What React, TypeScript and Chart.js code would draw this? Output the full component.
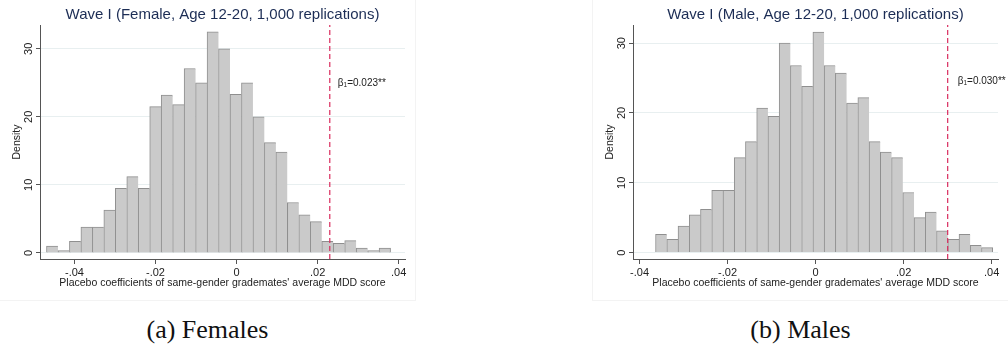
import React, { useEffect, useRef } from "react";
import { Chart, registerables } from "chart.js";

Chart.register(...registerables);

// Histogram densities (30 bins each) of placebo coefficients
const femaleDensity = [
  1.0, 0.34, 1.7, 3.8, 3.8, 6.3, 9.5, 11.2, 9.5, 21.5, 23.2, 21.8, 27.1, 25.0, 32.5,
  30.0, 23.3, 25.0, 20.0, 16.2, 14.8, 7.4, 5.6, 4.6, 1.7, 1.4, 1.8, 0.7, 0.34, 0.7,
];
const maleDensity = [
  2.6, 1.9, 3.8, 5.4, 6.2, 8.9, 8.9, 13.6, 15.9, 20.7, 19.5, 30.0, 26.8, 23.8, 31.6,
  26.8, 25.7, 21.4, 22.2, 15.9, 14.4, 13.6, 8.6, 5.0, 5.8, 3.1, 1.9, 2.6, 1.05, 0.7,
];

// Bin definitions (lower edge of first bin, bin width)
const femaleBinStart = -0.0469;
const femaleBinWidth = 0.00283;
const maleBinStart = -0.03636;
const maleBinWidth = 0.002553;

// Actual estimates marked by the dashed line
const femaleBeta = 0.023;
const maleBeta = 0.03;

// Axis ticks
const xTickValues = [-0.04, -0.02, 0, 0.02, 0.04];
const xTickLabels = ["-.04", "-.02", "0", ".02", ".04"];
const yTickValues = [0, 10, 20, 30];
const yTickLabels = ["0", "10", "20", "30"];

const FONT = "'Liberation Sans', Arial, Helvetica, sans-serif";

const betaLabelPlugin = {
  id: "betaLabel",
  afterDatasetsDraw(chart: any, _args: any, opts: any) {
    const { ctx, scales } = chart;
    const x0 = scales.x.getPixelForValue(opts.beta) + opts.dx;
    const y = scales.y.getPixelForValue(opts.y);
    ctx.save();
    ctx.fillStyle = "#222222";
    ctx.textAlign = "left";
    ctx.textBaseline = "middle";
    let x = x0;
    ctx.font = `10px ${FONT}`;
    ctx.fillText("β", x, y);
    x += ctx.measureText("β").width;
    ctx.font = `6.5px ${FONT}`;
    ctx.fillText("1", x, y + 2.5);
    x += ctx.measureText("1").width;
    ctx.font = `10px ${FONT}`;
    const eq = "=" + opts.beta.toFixed(3);
    ctx.fillText(eq, x, y);
    x += ctx.measureText(eq).width;
    ctx.fillText("**", x, y);
    ctx.restore();
  },
};

type PanelProps = {
  title: string;
  density: number[];
  binStart: number;
  binWidth: number;
  beta: number;
  xMin: number;
  xMax: number;
  yMin: number;
  yMax: number;
  labelY: number;
  labelDx: number;
};

function HistogramPanel(p: PanelProps) {
  const ref = useRef<HTMLCanvasElement | null>(null);

  useEffect(() => {
    if (!ref.current) return;
    const bars = p.density.map((d, i) => ({
      x: p.binStart + (i + 0.5) * p.binWidth,
      y: d,
    }));
    const last = p.density.length - 1;
    const chart = new Chart(ref.current, {
      type: "bar",
      data: {
        datasets: [
          {
            type: "line",
            data: [
              { x: p.beta, y: p.yMin },
              { x: p.beta, y: p.yMax },
            ],
            borderColor: "#d92c5e",
            borderWidth: 1.2,
            borderDash: [5, 3],
            pointRadius: 0,
            order: 0,
          } as any,
          {
            type: "bar",
            data: bars,
            backgroundColor: "#cacaca",
            borderColor: "#8f8f8f",
            borderWidth: (c: any) =>
              c.dataIndex === last
                ? { top: 1, left: 1, right: 1, bottom: 0 }
                : { top: 1, left: 1, right: 0, bottom: 0 },
            barPercentage: 1,
            categoryPercentage: 1,
            order: 1,
          } as any,
        ],
      },
      options: {
        animation: false,
        responsive: false,
        maintainAspectRatio: false,
        devicePixelRatio: 1,
        events: [],
        layout: { padding: { left: 0, right: 10, top: 0, bottom: 0 } },
        plugins: {
          legend: { display: false },
          tooltip: { enabled: false },
          title: {
            display: true,
            text: p.title,
            fullSize: false,
            color: "#1c2d55",
            font: { family: FONT, size: 15, weight: "normal", lineHeight: 1.2 },
            padding: { top: 6, bottom: 1 },
          },
          betaLabel: { beta: p.beta, y: p.labelY, dx: p.labelDx },
        } as any,
        scales: {
          x: {
            type: "linear",
            min: p.xMin,
            max: p.xMax,
            offset: false,
            afterFit: (s: any) => {
              s.height = 41;
            },
            afterBuildTicks: (s: any) => {
              s.ticks = xTickValues.map((v) => ({ value: v }));
            },
            ticks: {
              callback: (_v: any, i: number) => xTickLabels[i],
              maxRotation: 0,
              minRotation: 0,
              padding: 2,
              color: "#222222",
              font: { family: FONT, size: 11 },
            },
            grid: {
              display: true,
              offset: false,
              drawOnChartArea: false,
              drawTicks: true,
              tickLength: 5,
              tickColor: "#555555",
              tickWidth: 1,
            },
            border: { display: true, color: "#555555", width: 1 },
            title: {
              display: true,
              text: "Placebo coefficients of same-gender grademates' average MDD score",
              color: "#222222",
              font: { family: FONT, size: 10.5, lineHeight: 1.2 },
              padding: { top: 0, bottom: 11 },
            },
          },
          y: {
            type: "linear",
            min: p.yMin,
            max: p.yMax,
            afterFit: (s: any) => {
              s.width = 40;
            },
            afterBuildTicks: (s: any) => {
              s.ticks = yTickValues.map((v) => ({ value: v }));
            },
            ticks: {
              callback: (_v: any, i: number) => yTickLabels[i],
              minRotation: 90,
              maxRotation: 90,
              crossAlign: "center",
              padding: 1,
              color: "#222222",
              font: { family: FONT, size: 11 },
            },
            grid: {
              display: true,
              drawOnChartArea: true,
              color: "#e8eff0",
              lineWidth: 1,
              drawTicks: true,
              tickLength: 4,
              tickColor: "#555555",
              tickWidth: 1,
            },
            border: { display: true, color: "#555555", width: 1 },
            title: {
              display: true,
              text: "Density",
              color: "#222222",
              font: { family: FONT, size: 10.5, lineHeight: 1.2 },
              padding: { top: 10.7, bottom: 0 },
            },
          },
        },
      } as any,
      plugins: [betaLabelPlugin as any],
    });
    return () => chart.destroy();
  }, []);

  return <canvas ref={ref} width={415} height={300} style={{ display: "block" }} />;
}

const captionStyle: React.CSSProperties = {
  position: "absolute",
  top: 316,
  width: 415,
  height: 28,
  lineHeight: "28px",
  textAlign: "center",
  fontFamily: "'Liberation Serif', 'Times New Roman', serif",
  fontSize: 26,
  color: "#111111",
};

export default function App() {
  return (
    <div
      style={{
        position: "absolute",
        left: 0,
        top: 0,
        width: 1008,
        height: 349,
        background: "#ffffff",
        overflow: "hidden",
      }}
    >
      <div
        style={{
          position: "absolute",
          left: 0,
          top: 0,
          width: 415,
          height: 300,
          borderRight: "1px solid #f3f3f3",
          borderBottom: "1px solid #f3f3f3",
        }}
      >
        <HistogramPanel
          title="Wave I (Female, Age 12-20, 1,000 replications)"
          density={femaleDensity}
          binStart={femaleBinStart}
          binWidth={femaleBinWidth}
          beta={femaleBeta}
          xMin={-0.0485}
          xMax={0.04156}
          yMin={-0.9}
          yMax={33.5}
          labelY={25}
          labelDx={8}
        />
      </div>
      <div
        style={{
          position: "absolute",
          left: 592,
          top: 0,
          width: 416,
          height: 300,
          borderLeft: "1px solid #f3f3f3",
          borderBottom: "1px solid #f3f3f3",
        }}
      >
        <HistogramPanel
          title="Wave I (Male, Age 12-20, 1,000 replications)"
          density={maleDensity}
          binStart={maleBinStart}
          binWidth={maleBinWidth}
          beta={maleBeta}
          xMin={-0.04148}
          xMax={0.04143}
          yMin={-0.92}
          yMax={32.6}
          labelY={24.6}
          labelDx={10}
        />
      </div>
      <div style={{ ...captionStyle, left: 0 }}>(a) Females</div>
      <div style={{ ...captionStyle, left: 593 }}>(b) Males</div>
    </div>
  );
}
